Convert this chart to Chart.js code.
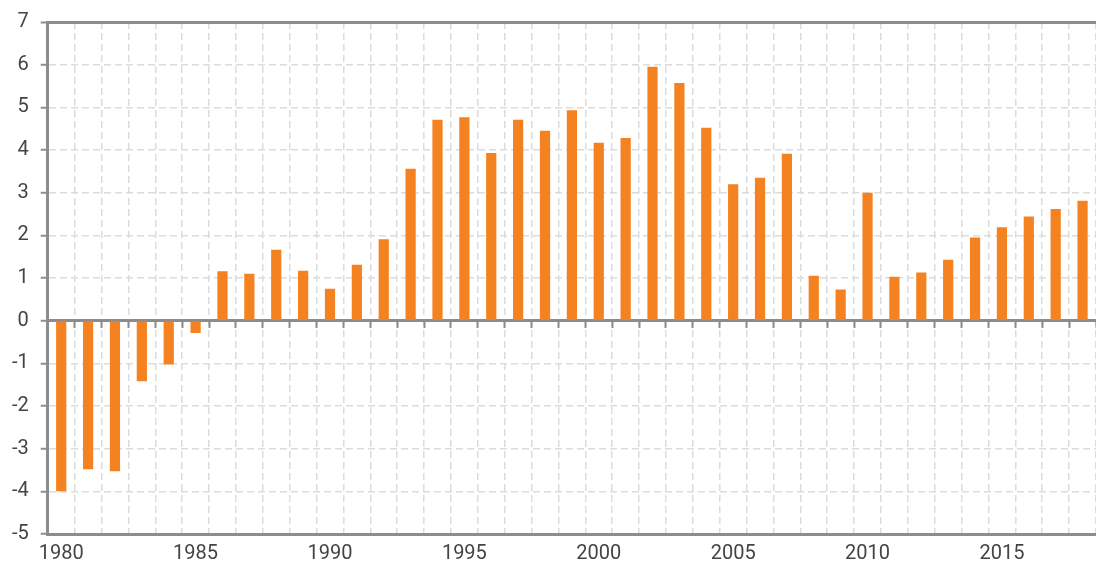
<!DOCTYPE html>
<html>
<head>
<meta charset="utf-8">
<script src="https://cdn.jsdelivr.net/npm/chart.js@4.4.1/dist/chart.umd.min.js"></script>
<style>
  html, body { margin: 0; padding: 0; background: #fff; }
  #wrap { width: 1096px; height: 568px; }
</style>
</head>
<body>
<div id="wrap"><canvas id="barChart" width="1096" height="568"></canvas></div>
<script>
// years 1980 - 2018
const years = ['1980', '1981', '1982', '1983', '1984', '1985', '1986', '1987', '1988', '1989',
    '1990', '1991', '1992', '1993', '1994', '1995', '1996', '1997', '1998', '1999',
    '2000', '2001', '2002', '2003', '2004', '2005', '2006', '2007', '2008', '2009',
    '2010', '2011', '2012', '2013', '2014', '2015', '2016', '2017', '2018'];

const values = [-4.0, -3.48, -3.53, -1.42, -1.03, -0.29, 1.16, 1.10, 1.66, 1.17,
    0.75, 1.31, 1.91, 3.56, 4.71, 4.77, 3.93, 4.71, 4.45, 4.93,
    4.17, 4.28, 5.95, 5.57, 4.52, 3.20, 3.35, 3.91, 1.05, 0.73,
    3.00, 1.03, 1.13, 1.43, 1.95, 2.19, 2.44, 2.62, 2.81];

const yMin = -5;
const yMax = 7;

const axisGrey = '#8c8c8c';
const gridGrey = '#dcdcdc';
const textGrey = '#444444';
const font = { family: 'Roboto', size: 20 };

const ctx = document.getElementById('barChart').getContext('2d');

new Chart(ctx, {
    type: 'bar',
    data: {
        labels: years,
        datasets: [
            {
                data: values,
                backgroundColor: '#F58220',
                borderWidth: 0,
                categoryPercentage: 1,
                barPercentage: 0.38,
            },
        ],
    },
    options: {
        responsive: false,
        animation: false,
        layout: {
            padding: { top: 8, left: 0, right: 0, bottom: -6 },
        },
        plugins: {
            legend: { display: false },
            tooltip: { enabled: false },
        },
        scales: {
            x: {
                position: 'bottom',
                grid: {
                    offset: true,
                    color: gridGrey,
                    lineWidth: 1.5,
                    drawTicks: false,
                    tickLength: 0,
                },
                border: { color: axisGrey, width: 3, dash: [7, 4] },
                ticks: {
                    autoSkip: false,
                    maxRotation: 0,
                    padding: 8,
                    color: textGrey,
                    font: font,
                    callback: function (val, i) {
                        const y = years[i];
                        return Number(y) % 5 === 0 ? y : '';
                    },
                },
            },
            // axis line across zero with small ticks below it
            x2: {
                type: 'category',
                position: { y: 0 },
                z: 1,
                grid: {
                    offset: true,
                    drawOnChartArea: false,
                    tickLength: 6,
                    tickColor: axisGrey,
                    tickWidth: 2,
                },
                border: { color: axisGrey, width: 3 },
                ticks: { display: false, autoSkip: false },
            },
            y: {
                min: yMin,
                max: yMax,
                ticks: {
                    stepSize: 1,
                    padding: 12,
                    color: textGrey,
                    font: { family: 'Roboto', size: 20, lineHeight: 1 },
                },
                grid: {
                    color: (c) => {
                        if (c.tick && c.tick.value === yMax) return axisGrey;
                        if (c.tick && c.tick.value === 0) return 'rgba(0,0,0,0)';
                        return gridGrey;
                    },
                    lineWidth: (c) => (c.tick && c.tick.value === yMax ? 3 : 1.5),
                    tickLength: 7,
                    tickColor: axisGrey,
                    tickWidth: 2,
                },
                border: {
                    color: axisGrey,
                    width: 3,
                    dash: (c) => (c.tick && c.tick.value === yMax ? [] : [7, 4]),
                },
            },
        },
    },
});
</script>
</body>
</html>
